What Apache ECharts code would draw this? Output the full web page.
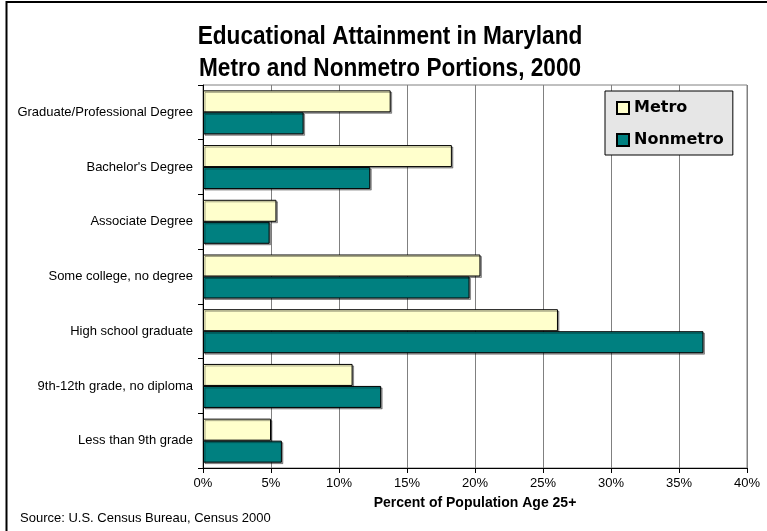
<!DOCTYPE html>
<html>
<head>
<meta charset="utf-8">
<script src="https://cdn.jsdelivr.net/npm/echarts@6/dist/echarts.min.js"></script>
<style>
  html, body { margin: 0; padding: 0; background: #fff; }
  #chart { width: 767px; height: 531px; }
</style>
</head>
<body>
<div id="chart"></div>
<script>
// Educational attainment, population age 25+, Maryland, 2000 (percent)
const categories = [
  'Graduate/Professional Degree',
  "Bachelor's Degree",
  'Associate Degree',
  'Some college, no degree',
  'High school graduate',
  '9th-12th grade, no diploma',
  'Less than 9th grade'
];
const metro = [13.8, 18.3, 5.4, 20.4, 26.1, 11.0, 5.0];
const nonmetro = [7.4, 12.3, 4.9, 19.6, 36.8, 13.1, 5.8];
const xTicks = { min: 0, max: 40, interval: 5 };

const chart = echarts.init(document.getElementById('chart'), null, { renderer: 'canvas' });

const barStyle = (color) => ({
  color: color,
  borderColor: '#000',
  borderWidth: 1,
  shadowColor: 'rgba(0,0,0,0.35)',
  shadowOffsetX: 1.5,
  shadowOffsetY: 1.5,
  shadowBlur: 0
});

chart.setOption({
  animation: false,
  backgroundColor: '#fff',
  legend: {
    orient: 'vertical',
    left: 605,
    top: 91,
    data: ['Metro', 'Nonmetro'],
    backgroundColor: '#e6e6e6',
    borderColor: '#000',
    borderWidth: 1,
    padding: [9, 9, 7, 11],
    itemWidth: 12,
    itemHeight: 12,
    itemGap: 16,
    icon: 'rect',
    textStyle: {
      fontFamily: '"DejaVu Sans", Verdana, sans-serif',
      fontWeight: 'bold',
      fontSize: 16,
      color: '#000'
    }
  },
  grid: {
    left: 203,
    right: 20,
    top: 85,
    bottom: 63,
    show: true,
    borderColor: '#808080',
    borderWidth: 1
  },
  xAxis: {
    type: 'value',
    min: xTicks.min,
    max: xTicks.max,
    interval: xTicks.interval,
    name: 'Percent of Population Age 25+',
    nameLocation: 'middle',
    nameGap: 28,
    nameTextStyle: {
      fontFamily: '"Liberation Sans", Arial, sans-serif',
      fontWeight: 'bold',
      fontSize: 14,
      color: '#000'
    },
    axisLine: { show: true, lineStyle: { color: '#000', width: 1 } },
    axisTick: { show: true, length: 5, lineStyle: { color: '#000' } },
    axisLabel: {
      formatter: '{value}%',
      margin: 9,
      fontFamily: '"Liberation Sans", Arial, sans-serif',
      fontSize: 13,
      color: '#000'
    },
    splitLine: { show: true, lineStyle: { color: '#808080', width: 1 } }
  },
  yAxis: {
    type: 'category',
    inverse: true,
    data: categories,
    axisLine: { show: true, lineStyle: { color: '#000', width: 1 } },
    axisTick: { show: true, length: 5, lineStyle: { color: '#000' } },
    axisLabel: {
      margin: 10,
      fontFamily: '"Liberation Sans", Arial, sans-serif',
      fontSize: 13,
      color: '#000'
    },
    splitLine: { show: false }
  },
  series: [
    {
      name: 'Metro',
      type: 'bar',
      data: metro,
      barWidth: 22,
      barGap: '0%',
      itemStyle: barStyle('#ffffcc')
    },
    {
      name: 'Nonmetro',
      type: 'bar',
      data: nonmetro,
      barWidth: 22,
      barGap: '0%',
      itemStyle: barStyle('#008080')
    }
  ],
  graphic: [
    {
      type: 'rect',
      shape: { x: 6.5, y: 2, width: 800, height: 600 },
      style: { fill: 'none', stroke: '#000', lineWidth: 2 },
      silent: true
    },
    {
      // two-line chart title, slightly condensed horizontally
      type: 'text',
      x: 390,
      y: 21,
      scaleX: 0.87,
      style: {
        text: 'Educational Attainment in Maryland\nMetro and Nonmetro Portions, 2000',
        align: 'center',
        verticalAlign: 'top',
        fontFamily: '"Liberation Sans", Arial, sans-serif',
        fontWeight: 'bold',
        fontSize: 26,
        lineHeight: 32,
        fill: '#000'
      }
    },
    {
      type: 'text',
      left: 20,
      top: 512,
      style: {
        text: 'Source: U.S. Census Bureau, Census 2000',
        fontFamily: '"Liberation Sans", Arial, sans-serif',
        fontSize: 13,
        fill: '#000'
      }
    }
  ]
});
</script>
</body>
</html>
